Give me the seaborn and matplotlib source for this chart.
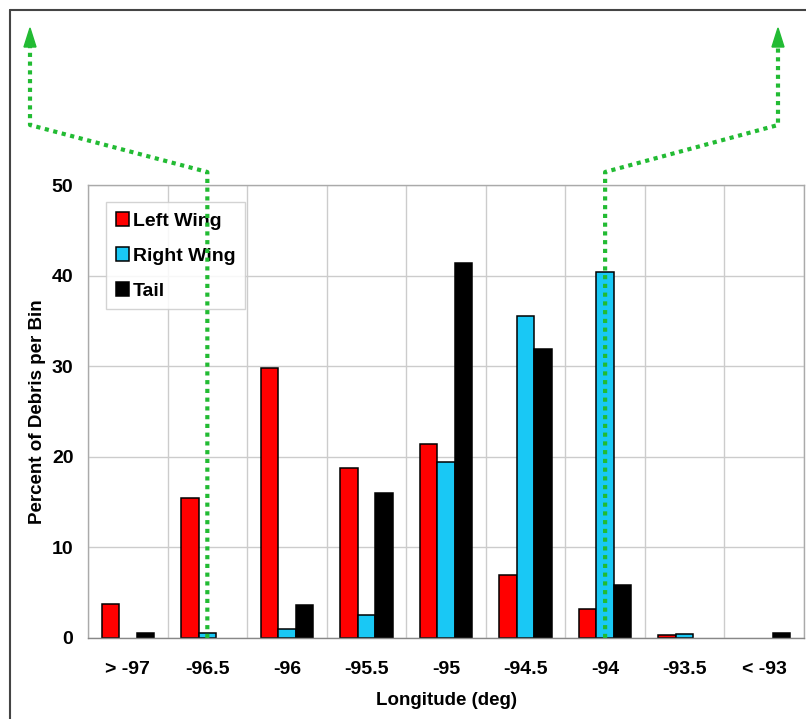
import pandas as pd
import matplotlib.pyplot as plt
from matplotlib.lines import Line2D
from matplotlib.patches import Polygon
from matplotlib.ticker import FixedLocator
import seaborn as sns

# --- Data ---
bins = ['> -97', '-96.5', '-96', '-95.5', '-95', '-94.5', '-94', '-93.5', '< -93']
left_wing = [3.8, 15.5, 29.8, 18.8, 21.4, 7.0, 3.2, 0.3, 0.0]
right_wing = [0.0, 0.6, 1.0, 2.5, 19.4, 35.5, 40.4, 0.4, 0.0]
tail = [0.6, 0.0, 3.6, 16.0, 41.4, 31.9, 5.9, 0.0, 0.6]
series = ['Left Wing', 'Right Wing', 'Tail']
colors = {'Left Wing': '#ff0000', 'Right Wing': '#19c8f5', 'Tail': '#000000'}

df = pd.concat([
    pd.DataFrame({'bin': bins, 'percent': vals, 'part': name})
    for name, vals in zip(series, [left_wing, right_wing, tail])
])

W, H = 806, 719
sns.set_style("white")
plt.rcParams['font.family'] = ['Liberation Sans', 'DejaVu Sans']
plt.rcParams['font.weight'] = 'bold'
plt.rcParams['text.color'] = 'black'
plt.rcParams['axes.labelcolor'] = 'black'
plt.rcParams['xtick.labelcolor'] = 'black'
plt.rcParams['ytick.labelcolor'] = 'black'

fig = plt.figure(figsize=(W / 100, H / 100), dpi=100)
ax = fig.add_axes([88 / W, 1 - 638 / H, (804 - 88) / W, (638 - 185) / H])

sns.barplot(
    data=df, x='bin', y='percent', hue='part', order=bins, hue_order=series,
    palette=colors, saturation=1, width=0.66, edgecolor='black', linewidth=1.1,
    errorbar=None, ax=ax
)
# empty bins draw nothing
for cont in ax.containers:
    for patch in cont.patches:
        if patch.get_height() == 0:
            patch.set_visible(False)

# --- Axes formatting ---
ax.set_ylim(0, 50)
ax.set_xlim(-0.5, len(bins) - 0.5)
ax.set_yticks(range(0, 51, 10))
ax.set_yticklabels([str(v) for v in range(0, 51, 10)], fontsize=14, fontweight='bold')
ax.set_xticks(range(len(bins)))
ax.set_xticklabels(bins, fontsize=14, fontweight='bold')
ax.tick_params(axis='x', which='major', length=0, pad=16.5)
ax.tick_params(axis='y', which='major', length=0, pad=10.5)
ax.xaxis.set_minor_locator(FixedLocator([i - 0.5 for i in range(len(bins) + 1)]))
ax.tick_params(axis='x', which='minor', length=6, color='#bbbbbb', width=1)
ax.grid(axis='y', which='major', color='#cccccc', linewidth=1)
ax.grid(axis='x', which='minor', color='#cccccc', linewidth=1)
ax.set_axisbelow(True)
for side, sp in ax.spines.items():
    sp.set_color('#aaaaaa')
    sp.set_linewidth(1)
ax.spines['bottom'].set_color('#888888')

ax.set_xlabel('Longitude (deg)', fontsize=13.5, fontweight='bold', labelpad=10)
ax.set_ylabel('Percent of Debris per Bin', fontsize=13.5, fontweight='bold', labelpad=4)

leg = ax.legend(
    loc='upper left', bbox_to_anchor=(0.025, 0.962), borderaxespad=0,
    frameon=True, fancybox=False, framealpha=0.85, edgecolor='#cccccc',
    handlelength=0.7, handleheight=0.7, handletextpad=0.2,
    labelspacing=0.9, borderpad=0.5, prop={'size': 14, 'weight': 'bold'}
)
leg.get_frame().set_linewidth(1)

# --- Green dotted arrows (annotation) ---
fig.canvas.draw()
right_bars = ax.containers[1]


def bar_center_px(patch):
    cx = patch.get_x() + patch.get_width() / 2
    return ax.transData.transform((cx, 0))[0]


def px(x, y):
    return (x / W, 1 - y / H)


green = '#22bb33'
xl = bar_center_px(right_bars.patches[1])
xr = bar_center_px(right_bars.patches[6])
paths = [
    [(xl, 638), (xl, 172), (30, 125), (30, 46)],
    [(xr, 638), (xr, 172), (778, 125), (778, 46)],
]
for path in paths:
    xs, ys = zip(*[px(x, y) for x, y in path])
    fig.add_artist(Line2D(xs, ys, color=green, linewidth=3,
                          linestyle=(0, (1, 1.1)), transform=fig.transFigure,
                          zorder=5))
    tipx = path[-1][0]
    fig.add_artist(Polygon([px(tipx - 6, 47), px(tipx + 6, 47), px(tipx, 28)],
                           closed=True, color=green, transform=fig.transFigure,
                           zorder=5))

# figure frame
fig.add_artist(Line2D([px(10, 10)[0], 1], [px(10, 10)[1]] * 2, color='#444444',
                      linewidth=1.5, transform=fig.transFigure))
fig.add_artist(Line2D([px(10, 10)[0]] * 2, [px(10, 10)[1], 0], color='#444444',
                      linewidth=1.5, transform=fig.transFigure))

fig.savefig('out.png', dpi=100)
